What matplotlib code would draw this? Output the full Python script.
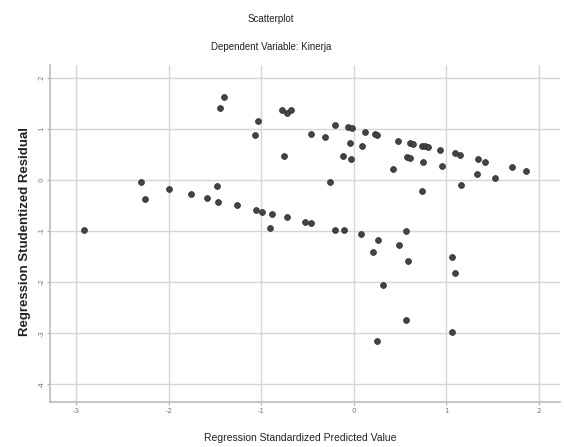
import matplotlib
matplotlib.use("Agg")
import matplotlib.pyplot as plt

# predicted (x) and residual (y) values
upper_x = [-1.40, -1.45, -1.04, -1.07, -0.78, -0.72, -0.68, -0.76, -0.47, -0.31,
           -0.20, -0.07, -0.02, 0.12, 0.23, 0.25, -0.04, 0.09, -0.12, -0.03,
           0.42, 0.48, 0.61, 0.64, 0.73, 0.77, 0.80, 0.57, 0.61, 0.75,
           0.93, 0.95, 0.74, 1.09, 1.15, 1.34, 1.42, 1.33, 1.52, 1.71,
           1.86, 1.16, -0.26]
upper_y = [1.62, 1.41, 1.16, 0.87, 1.36, 1.31, 1.37, 0.46, 0.90, 0.84,
           1.07, 1.03, 1.01, 0.94, 0.90, 0.88, 0.72, 0.67, 0.47, 0.41,
           0.22, 0.77, 0.72, 0.71, 0.67, 0.67, 0.65, 0.45, 0.43, 0.36,
           0.58, 0.28, -0.21, 0.52, 0.49, 0.41, 0.36, 0.11, 0.03, 0.25,
           0.18, -0.10, -0.05]

lower_x = [-2.92, -2.30, -2.26, -2.00, -1.76, -1.59, -1.48, -1.47, -1.26, -1.06,
           -0.99, -0.89, -0.91, -0.72, -0.53, -0.46, -0.21, -0.11, 0.08, 0.26,
           0.21, 0.56, 0.49, 0.58, 1.06, 1.09, 0.31, 0.56, 1.06, 0.25]
lower_y = [-0.99, -0.05, -0.38, -0.18, -0.28, -0.35, -0.11, -0.43, -0.50, -0.58,
           -0.62, -0.67, -0.95, -0.73, -0.83, -0.84, -0.98, -0.99, -1.06, -1.17,
           -1.42, -1.01, -1.28, -1.59, -1.52, -1.83, -2.05, -2.75, -2.98, -3.15]

x_ticks = [-3, -2, -1, 0, 1, 2]
y_ticks = [2, 1, 0, -1, -2, -3, -4]

fig = plt.figure(figsize=(5.64, 4.47), dpi=100)
ax = fig.add_axes([50 / 564, 1 - 402 / 447, 510 / 564, 337 / 447])

ax.scatter(upper_x + lower_x, upper_y + lower_y, s=18, color="#444444",
           edgecolors="#2a2a2a", linewidths=0.5, zorder=3)

ax.set_xlim(-3.286, 2.227)
ax.set_ylim(-4.35, 2.25)
ax.set_xticks(x_ticks)
ax.set_yticks(y_ticks)
ax.set_xticklabels([str(v) for v in x_ticks], fontsize=5, color="#777777")
ax.set_yticklabels([str(v) for v in y_ticks], fontsize=5, color="#777777",
                   rotation=90, va="center")
ax.tick_params(length=2, color="#aaaaaa", pad=2)
ax.grid(True, color="#d6d6d6", linewidth=1.0)
ax.set_axisbelow(True)
for side in ["top", "right"]:
    ax.spines[side].set_visible(False)
for side in ["left", "bottom"]:
    ax.spines[side].set_color("#bbbbbb")
    ax.spines[side].set_linewidth(1.2)

fig.text(271 / 564, 1 - 19 / 447, "Scatterplot", ha="center", va="center",
         fontsize=7, fontfamily="Liberation Sans", color="#222222")
fig.text(271 / 564, 1 - 47 / 447, "Dependent Variable: Kinerja", ha="center",
         va="center", fontsize=7, fontfamily="Liberation Sans", color="#222222")
fig.text(300 / 564, 1 - 438 / 447, "Regression Standardized Predicted Value",
         ha="center", va="center", fontsize=7.5, fontfamily="Liberation Sans",
         color="#222222")
fig.text(25 / 564, 1 - 231 / 447, "Regression Studentized Residual",
         ha="center", va="center", rotation=90, fontsize=9.5,
         fontfamily="Liberation Sans", fontweight="bold", color="#222222")

fig.savefig("out.png", dpi=100)
